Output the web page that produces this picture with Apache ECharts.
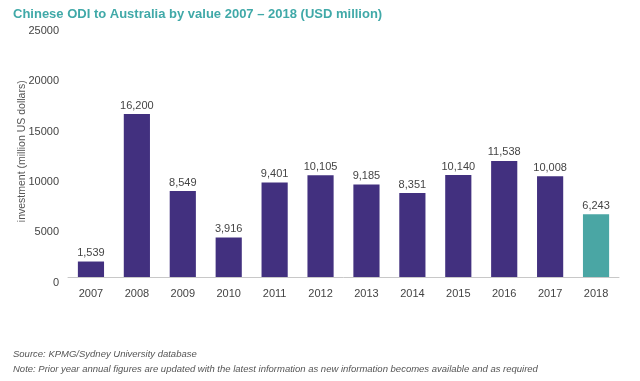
<!DOCTYPE html>
<html><head><meta charset="utf-8">
<script src="https://cdn.jsdelivr.net/npm/echarts@6/dist/echarts.min.js"></script>
<style>html,body{margin:0;padding:0;background:#fff}#c{width:640px;height:381px}</style>
</head><body><div id="c"></div>
<script>
const categories = ['2007','2008','2009','2010','2011','2012','2013','2014','2015','2016','2017','2018'];
const values = [1539,16200,8549,3916,9401,10105,9185,8351,10140,11538,10008,6243];
const yTicks = [0,5000,10000,15000,20000,25000];
const titleText = 'Chinese ODI to Australia by value 2007 \u2013 2018 (USD million)';
const sourceText = 'Source: KPMG/Sydney University database';
const noteText = 'Note: Prior year annual figures are updated with the latest information as new information becomes available and as required';

const purple = '#42307f', teal = '#4aa6a4';
const chart = echarts.init(document.getElementById('c'), null, {renderer:'canvas'});
chart.setOption({
  animation:false,
  textStyle:{fontFamily:'Liberation Sans, Arial, sans-serif'},
  title:{text:titleText, left:8, top:3, textStyle:{color:'#40a9a8', fontSize:13, fontWeight:'bold'}},
  graphic:[
    {type:'text', left:13, top:349, style:{text:sourceText, fill:'#555', font:'italic 9.5px Liberation Sans, Arial, sans-serif'}},
    {type:'text', left:13, top:364, style:{text:noteText, fill:'#555', font:'italic 9.5px Liberation Sans, Arial, sans-serif'}}
  ],
  grid:{left:68, right:21, top:25.5, bottom:104},
  xAxis:{type:'category', data:categories,
    axisLine:{lineStyle:{color:'#c8c8c8', width:1}}, axisTick:{show:false},
    axisLabel:{color:'#444', fontSize:11, margin:11}},
  yAxis:{type:'value', min:yTicks[0], max:yTicks[yTicks.length-1], interval:5000,
    splitLine:{show:false}, axisLine:{show:false}, axisTick:{show:false},
    axisLabel:{color:'#444', fontSize:11, margin:9, verticalAlign:'top', formatter:v=>String(v)},
    name:'investment (million US dollars)', nameLocation:'middle', nameGap:40, nameRotate:90,
    nameMoveOverlap:false,
    nameTextStyle:{color:'#555', fontSize:10.5}},
  series:[{type:'bar', barWidth:'57%',
    data: values.map((v,i)=>({value:v, itemStyle:{color: i===values.length-1 ? teal : purple}})),
    label:{show:true, position:'top', distance:3, color:'#444', fontSize:11,
      formatter:p=>p.value.toLocaleString('en-US')}
  }]
});
</script></body></html>
